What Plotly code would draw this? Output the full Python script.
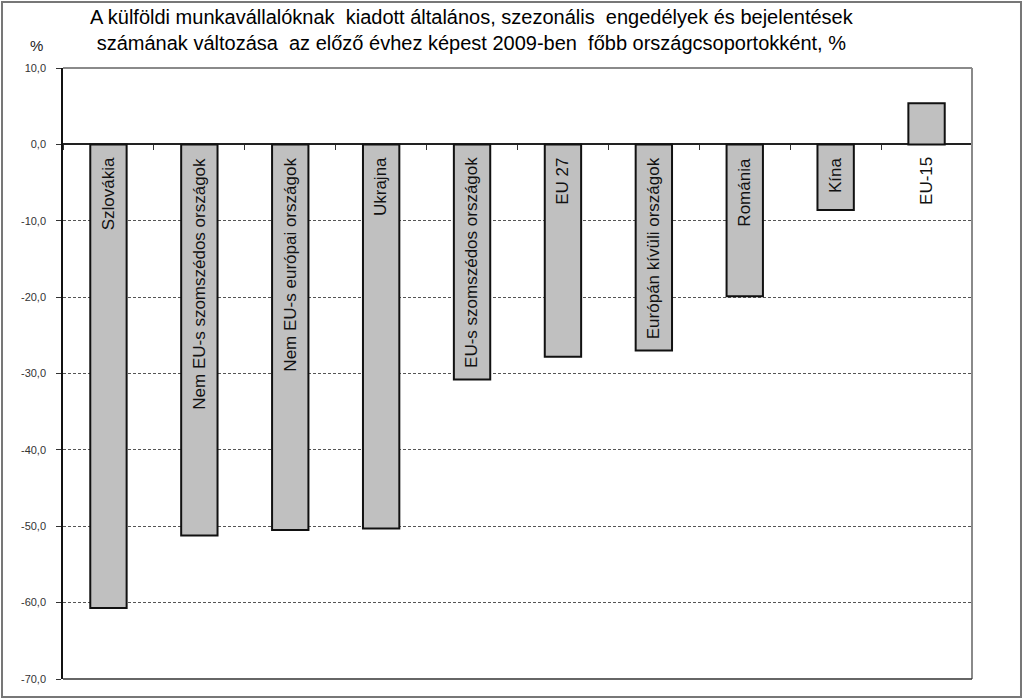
import plotly.graph_objects as go

categories = ["Szlovákia", "Nem EU-s szomszédos országok", "Nem EU-s európai országok",
              "Ukrajna", "EU-s szomszédos országok", "EU 27", "Európán kívüli országok",
              "Románia", "Kína", "EU-15"]
values = [-60.7, -51.2, -50.5, -50.3, -30.8, -27.8, -27.0, -19.9, -8.6, 5.4]
tick_vals = [10, 0, -10, -20, -30, -40, -50, -60, -70]
tick_text = ["10,0", "0,0", "-10,0", "-20,0", "-30,0", "-40,0", "-50,0", "-60,0", "-70,0"]
title_lines = ["A külföldi munkavállalóknak  kiadott általános, szezonális  engedélyek és bejelentések",
               "számának változása  az előző évhez képest 2009-ben  főbb országcsoportokként, %"]

FONT = "Liberation Sans"
y_min, y_max = -70, 10

fig = go.Figure()
fig.add_trace(go.Bar(
    x=categories, y=values, width=0.4,
    marker=dict(color="#c0c0c0", line=dict(color="#111111", width=2)),
    hoverinfo="x+y",
))

for c in categories:
    fig.add_annotation(x=c, y=0, xref="x", yref="y", text=c, textangle=-90,
                       showarrow=False, yanchor="top", xanchor="center", yshift=-11,
                       font=dict(family=FONT, size=17, color="#111111"))

fig.add_annotation(xref="paper", yref="paper", x=0.45, y=1.104, yanchor="top",
                   text="<br>".join(title_lines), showarrow=False, align="center",
                   font=dict(family=FONT, size=20, color="#000000"))
fig.add_annotation(xref="paper", yref="paper", x=-0.038, y=1.02, yanchor="bottom",
                   text="%", showarrow=False, font=dict(family=FONT, size=15, color="#222222"))

# plot frame: top/right gray, bottom black
fig.add_shape(type="line", xref="paper", yref="paper", x0=0, x1=1, y0=1, y1=1,
              line=dict(color="#8a8a8a", width=2))
fig.add_shape(type="line", xref="paper", yref="paper", x0=1, x1=1, y0=0, y1=1,
              line=dict(color="#8a8a8a", width=2))
fig.add_shape(type="line", xref="paper", yref="paper", x0=0, x1=1, y0=0, y1=0,
              line=dict(color="#333333", width=1.5))
# outer chart border
fig.add_shape(type="rect", xref="paper", yref="paper", x0=-0.0671, x1=1.0539,
              y0=-0.0295, y1=1.108, line=dict(color="#777777", width=2))

fig.update_layout(
    width=1024, height=699,
    margin=dict(l=63, r=52, t=68, b=20),
    paper_bgcolor="white", plot_bgcolor="white",
    showlegend=False, bargap=0.6,
    xaxis=dict(showgrid=False, showticklabels=False, ticks="outside", tickson="boundaries",
               ticklen=5, tickcolor="#333333", anchor="free",
               position=(0 - y_min) / (y_max - y_min), showline=False, fixedrange=True),
    yaxis=dict(range=[y_min, y_max], tickvals=tick_vals, ticktext=tick_text,
               ticks="outside", ticklen=5, tickcolor="#333333", ticklabelstandoff=8,
               showline=True, linecolor="#111111", linewidth=1.5,
               showgrid=True, gridcolor="#555555", griddash="3px,2px", gridwidth=1,
               zeroline=True, zerolinecolor="#222222", zerolinewidth=1.5,
               tickfont=dict(family=FONT, size=11, color="#333333"), fixedrange=True),
)

fig.write_html("out.html")
